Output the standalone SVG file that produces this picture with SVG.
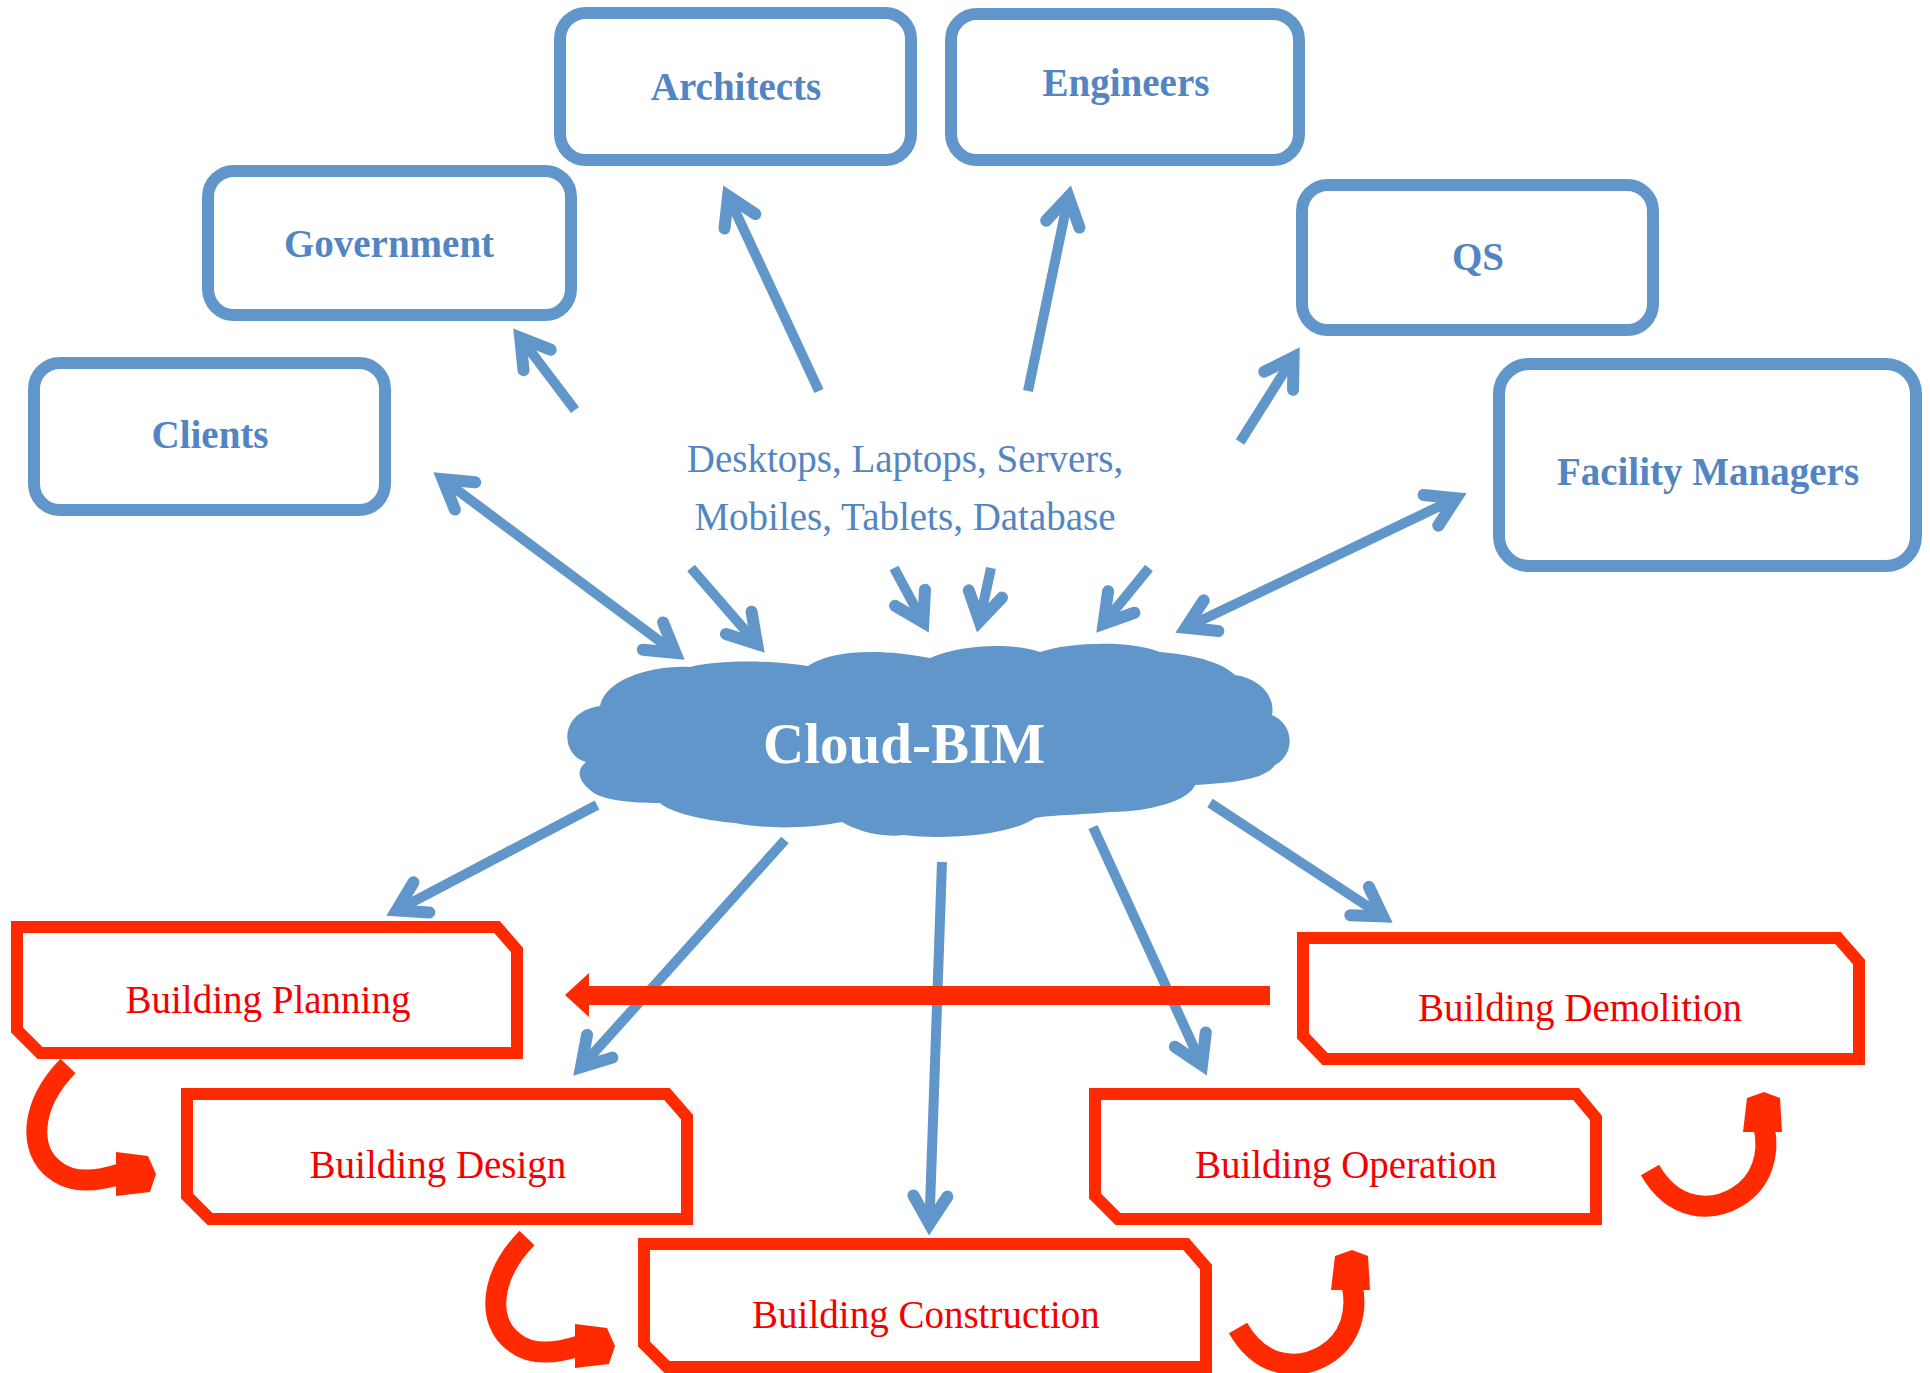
<svg xmlns="http://www.w3.org/2000/svg" width="1930" height="1373" viewBox="0 0 1930 1373">
<style>
.bbox{fill:#ffffff;stroke:#6096c9;stroke-width:12}
.btxt{font-family:"Liberation Serif","Times New Roman",serif;font-size:39px;font-weight:bold;fill:#5385c2;text-anchor:middle}
.dtxt{font-family:"Liberation Serif","Times New Roman",serif;font-size:39px;fill:#5385c2;text-anchor:middle}
.rbox{fill:#ffffff;stroke:#ff2a00;stroke-width:12;stroke-linejoin:miter}
.rtxt{font-family:"Liberation Serif","Times New Roman",serif;font-size:39px;fill:#f40000;text-anchor:middle}
.conn{fill:none;stroke:#6096c9;stroke-width:10;marker-end:url(#ah)}
.dbl{marker-start:url(#ah)}
.curve{fill:none;stroke:#ff2a00;stroke-width:21}
.rfill{fill:#ff2a00}
</style>
<defs>
<marker id="ah" markerUnits="userSpaceOnUse" markerWidth="80" markerHeight="80" viewBox="-50 -40 80 80" refX="0" refY="0" orient="auto-start-reverse" overflow="visible">
<path d="M -28,-17 L 0,0 L -28,17" fill="none" stroke="#6096c9" stroke-width="12" stroke-linecap="round" stroke-linejoin="miter" stroke-miterlimit="10"/>
</marker>
</defs>
<rect width="1930" height="1373" fill="#ffffff"/>

<g id="connectors">
<line class="conn dbl" x1="442.6" y1="479.2" x2="675.4" y2="652.8"/>
<line class="conn" x1="575" y1="410" x2="520.2" y2="337.6"/>
<line class="conn" x1="819" y1="391" x2="728.1" y2="195.9"/>
<line class="conn" x1="1028" y1="391" x2="1068.5" y2="196.7"/>
<line class="conn" x1="1240" y1="442" x2="1293.6" y2="357.1"/>
<line class="conn dbl" x1="1185.8" y1="627.8" x2="1456.2" y2="498.2"/>
<line class="conn" x1="691" y1="568" x2="757.1" y2="644"/>
<line class="conn" x1="894" y1="568" x2="923.3" y2="622.4"/>
<line class="conn" x1="991" y1="568" x2="979.5" y2="621.3"/>
<line class="conn" x1="1149" y1="568" x2="1103.6" y2="623.7"/>
<line class="conn" x1="597" y1="805" x2="396.6" y2="910.4"/>
<line class="conn" x1="785" y1="840" x2="581" y2="1067.1"/>
<line class="conn" x1="942" y1="862" x2="929.4" y2="1224"/>
<line class="conn" x1="1093" y1="827" x2="1202" y2="1065.1"/>
<line class="conn" x1="1210" y1="803" x2="1383" y2="916.4"/>
<g id="demolition-to-planning">
<rect class="rfill" x="586" y="986" width="684" height="19"/>
<polygon class="rfill" points="565,995 589,973 589,1017"/>
</g>
<g id="planning-to-design">
<path class="curve" d="M 68,1066 C 30,1105 28,1150 55,1170 C 72,1184 95,1182 120,1174"/>
<polygon class="rfill" points="116,1152 148,1156 156,1174 150,1192 116,1196"/>
</g>
<g id="design-to-construction" transform="translate(459,172)">
<path class="curve" d="M 68,1066 C 30,1105 28,1150 55,1170 C 72,1184 95,1182 120,1174"/>
<polygon class="rfill" points="116,1152 148,1156 156,1174 150,1192 116,1196"/>
</g>
<g id="construction-to-operation">
<path class="curve" d="M 1238,1328 C 1262,1370 1300,1370 1325,1355 C 1350,1340 1358,1312 1352,1285"/>
<polygon class="rfill" points="1331,1290 1335,1256 1352,1250 1368,1256 1370,1290"/>
</g>
<g id="operation-to-demolition" transform="translate(412,-158)">
<path class="curve" d="M 1238,1328 C 1262,1370 1300,1370 1325,1355 C 1350,1340 1358,1312 1352,1285"/>
<polygon class="rfill" points="1331,1290 1335,1256 1352,1250 1368,1256 1370,1290"/>
</g>
</g>

<g id="cloud-bim">
<path fill="#6096c9" d="M 586,762 C 560,755 558,712 600,706 C 605,680 650,665 690,667 C 720,660 770,660 808,666 C 830,650 880,648 930,658 C 960,645 1010,642 1040,652 C 1070,642 1130,640 1160,652 C 1200,655 1225,665 1235,675 C 1265,680 1275,700 1272,715 C 1295,725 1295,755 1275,765 C 1265,780 1230,783 1195,785 C 1190,800 1150,812 1110,812 C 1080,815 1050,815 1035,818 C 1010,836 940,840 904,835 C 880,838 855,830 842,822 C 800,830 760,828 735,823 C 700,820 670,812 660,803 C 630,803 600,800 590,790 C 578,780 576,770 586,762 Z"/>
<text x="904" y="763" font-family="Liberation Serif, Times New Roman, serif" font-size="57" font-weight="bold" fill="#ffffff" text-anchor="middle">Cloud-BIM</text>
</g>

<g id="devices">
<text class="dtxt" x="905" y="472">Desktops, Laptops, Servers,</text>
<text class="dtxt" x="905" y="530">Mobiles, Tablets, Database</text>
</g>

<g id="architects"><rect class="bbox" x="560" y="13" width="351" height="147" rx="26"/><text class="btxt" x="736" y="100">Architects</text></g>
<g id="engineers"><rect class="bbox" x="951" y="14" width="348" height="146" rx="26"/><text class="btxt" x="1126" y="96">Engineers</text></g>
<g id="government"><rect class="bbox" x="208" y="171" width="363" height="144" rx="26"/><text class="btxt" x="389" y="257">Government</text></g>
<g id="qs"><rect class="bbox" x="1302" y="185" width="351" height="145" rx="26"/><text class="btxt" x="1478" y="270">QS</text></g>
<g id="clients"><rect class="bbox" x="34" y="363" width="351" height="147" rx="26"/><text class="btxt" x="210" y="448">Clients</text></g>
<g id="facility-managers"><rect class="bbox" x="1499" y="364" width="417" height="202" rx="30"/><text class="btxt" x="1708" y="485">Facility Managers</text></g>

<g id="building-planning"><path class="rbox" d="M 17,927 H 497 L 517,950 V 1053 H 40 L 17,1030 Z"/><text class="rtxt" x="268" y="1013">Building Planning</text></g>
<g id="building-design"><path class="rbox" d="M 187,1094 H 667 L 687,1117 V 1219 H 210 L 187,1196 Z"/><text class="rtxt" x="438" y="1178">Building Design</text></g>
<g id="building-construction"><path class="rbox" d="M 644,1244 H 1186 L 1206,1267 V 1367 H 667 L 644,1344 Z"/><text class="rtxt" x="926" y="1328">Building Construction</text></g>
<g id="building-operation"><path class="rbox" d="M 1095,1094 H 1576 L 1596,1118 V 1219 H 1118 L 1095,1196 Z"/><text class="rtxt" x="1346" y="1178">Building Operation</text></g>
<g id="building-demolition"><path class="rbox" d="M 1303,938 H 1838 L 1859,962 V 1059 H 1325 L 1303,1036 Z"/><text class="rtxt" x="1580" y="1021">Building Demolition</text></g>
</svg>
